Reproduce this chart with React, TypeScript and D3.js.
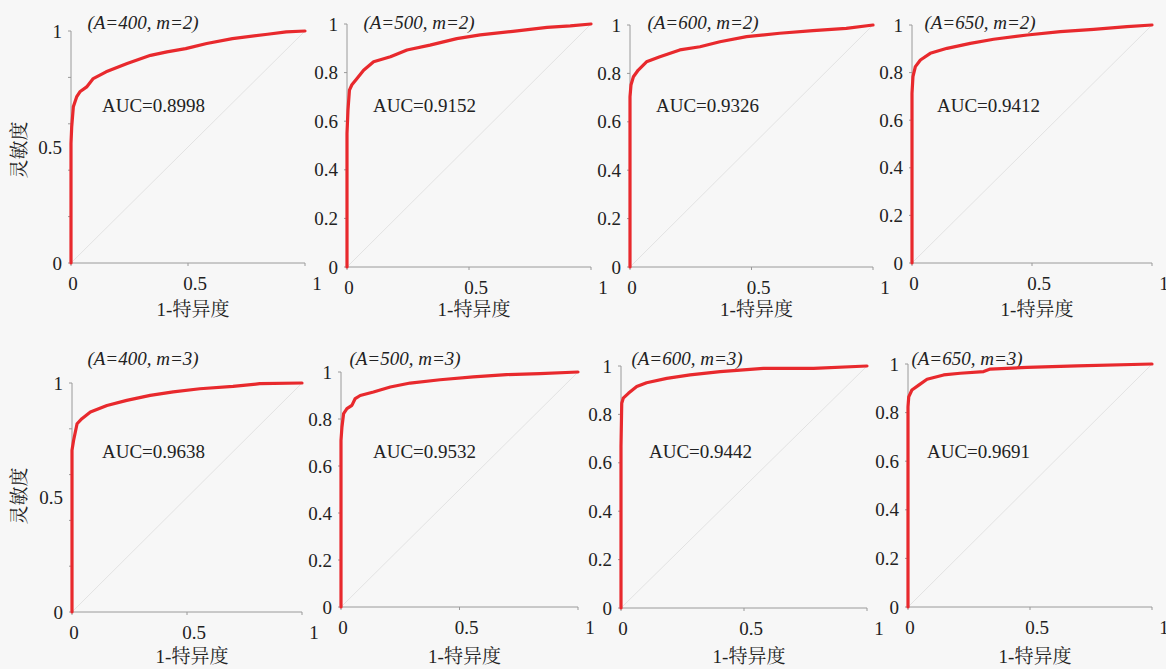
import React, { useEffect, useRef } from 'react';
import * as d3 from 'd3';

// ROC points [1-specificity, sensitivity]
const roc400m2 = [
  [0, 0], [0, 0.516], [0.003, 0.587], [0.01, 0.673], [0.024, 0.716], [0.038, 0.738],
  [0.067, 0.759], [0.095, 0.795], [0.15, 0.824], [0.24, 0.86], [0.34, 0.895],
  [0.41, 0.91], [0.49, 0.924], [0.58, 0.946], [0.69, 0.967], [0.84, 0.986], [0.92, 0.996], [1, 1],
];
const roc500m2 = [
  [0, 0], [0, 0.55], [0.004, 0.646], [0.01, 0.728], [0.02, 0.75], [0.041, 0.776],
  [0.068, 0.81], [0.109, 0.845], [0.178, 0.865], [0.246, 0.893], [0.34, 0.913],
  [0.45, 0.94], [0.546, 0.955], [0.68, 0.97], [0.82, 0.986], [0.915, 0.992], [1, 1],
];
const roc600m2 = [
  [0, 0], [0, 0.703], [0.004, 0.752], [0.014, 0.786], [0.034, 0.814], [0.068, 0.848],
  [0.123, 0.869], [0.205, 0.897], [0.288, 0.91], [0.37, 0.931], [0.48, 0.952],
  [0.616, 0.966], [0.753, 0.977], [0.89, 0.986], [1, 1],
];
const roc650m2 = [
  [0, 0], [0, 0.713], [0.004, 0.783], [0.014, 0.825], [0.035, 0.853], [0.076, 0.881],
  [0.146, 0.902], [0.243, 0.923], [0.34, 0.94], [0.48, 0.958], [0.618, 0.972],
  [0.757, 0.982], [0.896, 0.993], [1, 1],
];
const roc400m3 = [
  [0, 0], [0, 0.706], [0.007, 0.75], [0.022, 0.822], [0.043, 0.844], [0.08, 0.873],
  [0.152, 0.902], [0.238, 0.924], [0.34, 0.946], [0.44, 0.961], [0.556, 0.975],
  [0.7, 0.985], [0.816, 0.997], [1, 1],
];
const roc500m3 = [
  [0, 0], [0, 0.709], [0.004, 0.766], [0.011, 0.823], [0.025, 0.844], [0.046, 0.858],
  [0.06, 0.887], [0.081, 0.9], [0.137, 0.915], [0.208, 0.936], [0.292, 0.953],
  [0.418, 0.967], [0.558, 0.979], [0.698, 0.989], [0.839, 0.993], [1, 1],
];
const roc600m3 = [
  [0, 0], [0, 0.667], [0.003, 0.846], [0.009, 0.867], [0.03, 0.887], [0.064, 0.915],
  [0.104, 0.931], [0.186, 0.949], [0.281, 0.963], [0.403, 0.977], [0.579, 0.99],
  [0.783, 0.99], [1, 1],
];
const roc650m3 = [
  [0, 0], [0, 0.824], [0.003, 0.865], [0.016, 0.893], [0.044, 0.913], [0.078, 0.937],
  [0.146, 0.955], [0.214, 0.962], [0.31, 0.969], [0.337, 0.979], [0.488, 0.986],
  [0.693, 0.992], [1, 1],
];

const titles = [
  '(A=400, m=2)', '(A=500, m=2)', '(A=600, m=2)', '(A=650, m=2)',
  '(A=400, m=3)', '(A=500, m=3)', '(A=600, m=3)', '(A=650, m=3)',
];
const aucLabels = [
  'AUC=0.8998', 'AUC=0.9152', 'AUC=0.9326', 'AUC=0.9412',
  'AUC=0.9638', 'AUC=0.9532', 'AUC=0.9442', 'AUC=0.9691',
];
const curves = [roc400m2, roc500m2, roc600m2, roc650m2, roc400m3, roc500m3, roc600m3, roc650m3];
const yTicksFine = [0, 0.2, 0.4, 0.6, 0.8, 1];
const yTicksCoarse = [0, 0.5, 1];
const xTicks = [0, 0.5, 1];
const xTitle = '1-特异度';
const yTitle = '灵敏度';

// panel boxes in page pixels: x0, x1, yTop, yBot, title centre offset, AUC offset
const panels = [
  { x0: 71, x1: 305, top: 31, bot: 263, tdx: 72, adx: 31, coarse: true },
  { x0: 347, x1: 591, top: 24, bot: 267, tdx: 72, adx: 26, coarse: false },
  { x0: 630, x1: 873, top: 25, bot: 267, tdx: 73, adx: 26, coarse: false },
  { x0: 912, x1: 1152, top: 25, bot: 263, tdx: 68, adx: 25, coarse: false },
  { x0: 72, x1: 302, top: 383, bot: 612, tdx: 71, adx: 30, coarse: true },
  { x0: 341, x1: 578, top: 372, bot: 607, tdx: 64, adx: 32, coarse: false },
  { x0: 621, x1: 867, top: 366, bot: 608, tdx: 66, adx: 28, coarse: false },
  { x0: 908, x1: 1152, top: 364, bot: 607, tdx: 59, adx: 19, coarse: false },
];

const serif = '"Liberation Serif", "Times New Roman", "Noto Serif CJK SC", "Noto Sans CJK SC", serif';
const fs = 19;

const App = () => {
  const ref = useRef<SVGSVGElement>(null);

  useEffect(() => {
    const svg = d3.select(ref.current);
    svg.selectAll('*').remove();

    svg.append('rect').attr('width', 1166).attr('height', 669).attr('fill', '#f7f7f7');

    panels.forEach((p, i) => {
      const row = i < 4 ? 0 : 1;
      const x = d3.scaleLinear().domain([0, 1]).range([p.x0, p.x1]);
      const y = d3.scaleLinear().domain([0, 1]).range([p.bot, p.top]);
      const g = svg.append('g');

      // chance diagonal
      g.append('line')
        .attr('x1', x(0)).attr('y1', y(0)).attr('x2', x(1)).attr('y2', y(1))
        .attr('stroke', '#e2e2e2').attr('stroke-width', 1);

      // axes lines
      g.append('line')
        .attr('x1', x(0)).attr('x2', x(0)).attr('y1', y(0)).attr('y2', y(1))
        .attr('stroke', '#9a9a9a');
      g.append('line')
        .attr('x1', x(0)).attr('x2', x(1)).attr('y1', y(0)).attr('y2', y(0))
        .attr('stroke', '#9a9a9a');

      // y ticks
      g.selectAll('.yt').data(yTicksFine).enter().append('line')
        .attr('x1', x(0) - 3).attr('x2', x(0))
        .attr('y1', (d) => y(d)).attr('y2', (d) => y(d))
        .attr('stroke', '#9a9a9a');
      const yLabels = p.coarse ? yTicksCoarse : yTicksFine;
      g.selectAll('.yl').data(yLabels).enter().append('text')
        .attr('x', x(0) - 9).attr('y', (d) => y(d)).attr('dy', '0.35em')
        .attr('text-anchor', 'end')
        .attr('font-family', serif).attr('font-size', fs).attr('fill', '#222')
        .text((d) => String(d));

      // x ticks
      g.selectAll('.xt').data(xTicks).enter().append('line')
        .attr('x1', (d) => x(d)).attr('x2', (d) => x(d))
        .attr('y1', y(0)).attr('y2', y(0) + 3)
        .attr('stroke', '#9a9a9a');
      g.selectAll('.xl').data(xTicks).enter().append('text')
        .attr('x', (d) => x(d) + 2 + d * 10).attr('y', y(0) + 27)
        .attr('text-anchor', 'middle')
        .attr('font-family', serif).attr('font-size', fs).attr('fill', '#222')
        .text((d) => String(d));

      // x title
      g.append('text')
        .attr('x', (p.x0 + p.x1) / 2 + 5).attr('y', row === 0 ? 316 : 663)
        .attr('text-anchor', 'middle')
        .attr('font-family', serif).attr('font-size', fs).attr('fill', '#222')
        .text(xTitle);

      // panel title
      g.append('text')
        .attr('x', p.x0 + p.tdx).attr('y', row === 0 ? 29 : 365)
        .attr('text-anchor', 'middle').attr('font-style', 'italic')
        .attr('font-family', serif).attr('font-size', fs).attr('fill', '#222')
        .text(titles[i]);

      // AUC
      g.append('text')
        .attr('x', p.x0 + p.adx).attr('y', row === 0 ? 112 : 458)
        .attr('font-family', serif).attr('font-size', fs).attr('fill', '#222')
        .text(aucLabels[i]);

      // ROC curve
      const line = d3.line<number[]>().x((d) => x(d[0])).y((d) => y(d[1]));
      g.append('path')
        .attr('d', line(curves[i]))
        .attr('fill', 'none').attr('stroke', '#e8292d').attr('stroke-width', 3.2)
        .attr('stroke-linejoin', 'round').attr('stroke-linecap', 'round');

      // y title on first column
      if (i % 4 === 0) {
        const cy = row === 0 ? 150 : 496;
        g.append('text')
          .attr('transform', `translate(26, ${cy}) rotate(-90)`)
          .attr('text-anchor', 'middle')
          .attr('font-family', serif).attr('font-size', fs).attr('fill', '#222')
          .text(yTitle);
      }
    });
  }, []);

  return (
    <svg
      ref={ref}
      width={1166}
      height={669}
      style={{ position: 'absolute', left: 0, top: 0, display: 'block' }}
    />
  );
};

export default App;
